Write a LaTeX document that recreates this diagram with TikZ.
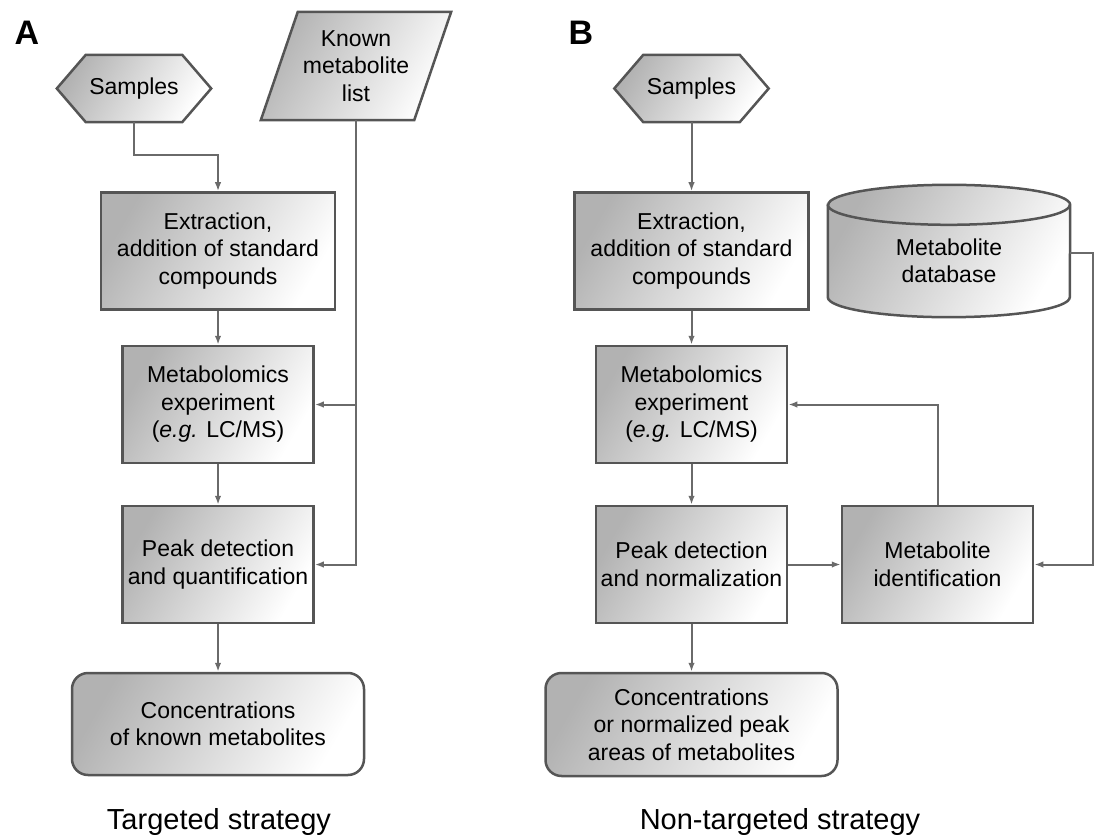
\documentclass[tikz,border=0pt]{standalone}
\usepackage{fontspec}
\setmainfont{Liberation Sans}
\usetikzlibrary{arrows.meta,backgrounds,calc}

\definecolor{bordergray}{HTML}{555555}
\definecolor{linegray}{HTML}{6A6A6A}

\tikzset{
  boxtext/.style={font=\fontsize{23pt}{27.5pt}\selectfont, align=center, inner sep=0pt},
  shadefill/.style={draw=bordergray, line width=2.5pt, line join=miter,
    top color=black!30, bottom color=white, shading angle=60},
  procbox/.style={boxtext, shadefill, minimum height=117pt},
  endbox/.style={boxtext, shadefill, rounded corners=16pt,
    minimum width=292pt, minimum height=102pt},
  conn/.style={draw=linegray, line width=2pt,
    -{Latex[length=9pt,width=6.5pt]}},
  panellabel/.style={font=\fontsize{34pt}{34pt}\selectfont\bfseries, inner sep=0pt},
  strategy/.style={font=\fontsize{29pt}{34pt}\selectfont, anchor=base, inner sep=0pt}
}

\begin{document}
\begin{tikzpicture}[x=1pt, y=-1pt]
\useasboundingbox (0,0) rectangle (1098,837);

% ---------- A: targeted strategy ----------
\node[panellabel] (labA) at (27,33) {A};
\node[boxtext, minimum width=154pt, minimum height=67pt] (sampA) at (134,88.5) {Samples};
\node[boxtext, minimum width=190pt, minimum height=108pt] (knownA) at (356,66) {Known\\metabolite\\list};
\node[procbox, minimum width=234pt] (extA) at (218,251) {Extraction,\\addition of standard\\compounds};
\node[procbox, minimum width=191pt] (metA) at (218,404.5) {Metabolomics\\experiment\\(\textit{e.g.} LC/MS)};
\node[procbox, minimum width=191pt] (peakA) at (218,564.5) {Peak detection\\and quantification};
\node[endbox] (concA) at (218,724) {Concentrations\\of known metabolites};
\node[strategy] (titleA) at (219,829) {Targeted strategy};

% ---------- B: non-targeted strategy ----------
\node[panellabel] (labB) at (581,33) {B};
\node[boxtext, minimum width=154pt, minimum height=67pt] (sampB) at (691.5,88.5) {Samples};
\node[procbox, minimum width=234pt] (extB) at (691.5,251) {Extraction,\\addition of standard\\compounds};
\node[procbox, minimum width=191pt] (metB) at (691.5,404.5) {Metabolomics\\experiment\\(\textit{e.g.} LC/MS)};
\node[procbox, minimum width=191pt] (peakB) at (691.5,564.5) {Peak detection\\and normalization};
\node[procbox, minimum width=191pt] (idB) at (937.5,564.5) {Metabolite\\identification};
\node[boxtext, minimum width=242pt, minimum height=112pt] (dbB) at (949,261) {Metabolite\\database};
\node[endbox, minimum height=103pt] (concB) at (691.5,724.5) {Concentrations\\or normalized peak\\areas of metabolites};
\node[strategy] (titleB) at (780,829) {Non-targeted strategy};

% ---------- outlines of the non-rectangular shapes ----------
\begin{scope}[on background layer]
  \foreach \s in {sampA,sampB}{
    \path[shadefill] (\s.west) -- ([xshift=29pt]\s.north west)
      -- ([xshift=-29pt]\s.north east) -- (\s.east)
      -- ([xshift=-29pt]\s.south east) -- ([xshift=29pt]\s.south west) -- cycle;
  }
  \path[shadefill] ([xshift=37pt]knownA.north west) -- (knownA.north east)
    -- ([xshift=-37pt]knownA.south east) -- (knownA.south west) -- cycle;
  \path[shadefill] (dbB.north west) -- ([yshift=20pt]dbB.south west)
    arc[start angle=180, end angle=360, x radius=121pt, y radius=20pt]
    -- (dbB.north east)
    arc[start angle=0, end angle=180, x radius=121pt, y radius=20pt] -- cycle;
  \draw[draw=bordergray, line width=2.5pt] (dbB.north west)
    arc[start angle=180, end angle=360, x radius=121pt, y radius=20pt];
\end{scope}

% ---------- connectors A ----------
\draw[conn] (sampA.south) -- ++(0,33) -| (extA.north);
\draw[conn] (extA) -- (metA);
\draw[conn] (metA) -- (peakA);
\draw[conn] (peakA) -- (concA);
\draw[conn] (knownA.south) |- (metA.east);
\draw[conn] (knownA.south) |- (peakA.east);

% ---------- connectors B ----------
\draw[conn] (sampB) -- (extB);
\draw[conn] (extB) -- (metB);
\draw[conn] (metB) -- (peakB);
\draw[conn] (peakB) -- (concB);
\draw[conn] (peakB) -- (idB);
\draw[conn] (idB.north) |- (metB.east);
\draw[conn] ([yshift=8pt]dbB.east) -- ++(23,0) |- (idB.east);
\end{tikzpicture}
\end{document}
